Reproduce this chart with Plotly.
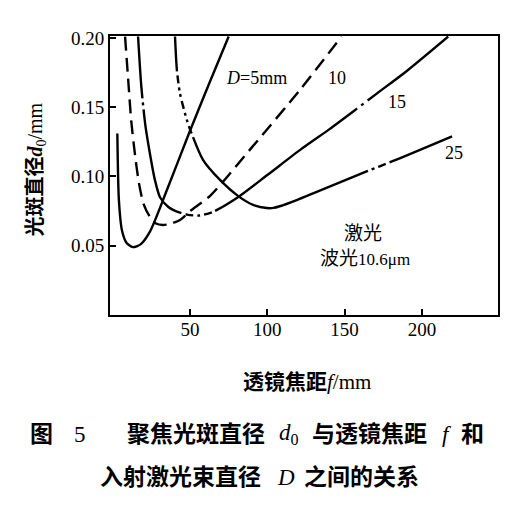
import plotly.graph_objects as go

# ---- data (f in mm, d0 in mm) ----
f_D5 = [3, 4, 6, 9, 13, 18, 24, 35, 50, 62, 75]
d_D5 = [0.131, 0.083, 0.061, 0.052, 0.049, 0.051, 0.060, 0.090, 0.133, 0.166, 0.201]

f_D10 = [8, 10, 12, 14.5, 17, 20, 24, 28, 32.5, 38, 44, 50, 63, 90, 120, 148]
d_D10 = [0.201, 0.170, 0.140, 0.115, 0.095, 0.080, 0.071, 0.066, 0.065, 0.066, 0.069, 0.075, 0.086, 0.121, 0.161, 0.201]

f_D15 = [16.4, 18.5, 21, 24, 27.4, 30.6, 36, 42, 48, 56, 65, 81, 100, 121, 140, 158, 171, 190, 217]
d_D15 = [0.201, 0.165, 0.138, 0.117, 0.097, 0.085, 0.078, 0.0745, 0.0725, 0.0718, 0.0745, 0.085, 0.101, 0.119, 0.134, 0.149, 0.160, 0.176, 0.201]

f_D25 = [40.3, 41.5, 43.5, 47.9, 50, 58.4, 69.4, 81, 90.8, 99.6, 104, 108, 119, 130, 165, 181, 219.5]
d_D25 = [0.201, 0.177, 0.160, 0.141, 0.134, 0.112, 0.0975, 0.086, 0.0795, 0.0772, 0.0773, 0.0785, 0.083, 0.088, 0.104, 0.111, 0.129]

x_ticks = [50, 100, 150, 200]
y_ticks = [0.05, 0.10, 0.15, 0.20]
y_ticktext = ["0.05", "0.10", "0.15", "0.20"]

curve_labels = ["<i>D</i>=5mm", "10", "15", "25"]
label_x = [93.3, 145, 184, 221]
label_y = [0.171, 0.171, 0.154, 0.117]

SERIF = "Liberation Serif, Noto Sans CJK SC, serif"
CJK = "Noto Sans CJK SC, Liberation Serif"

fig = go.Figure()
line_w = 2.4
sm = 0.7
dash15 = "62px,4px,3px,4px,117px,4px,8px,4px,3px,4px,8px,4px,175px,5px,3px,5px,400px"
dash25 = ("35px,4px,8px,4px,3px,4px,3px,4px,8px,4px,3px,4px,3px,4px,8px,4px,"
          "215px,4px,3px,4px,8px,4px,300px")
fig.add_trace(go.Scatter(x=f_D5, y=d_D5, mode="lines", line=dict(color="black", width=line_w, shape="spline", smoothing=sm)))
fig.add_trace(go.Scatter(x=f_D10, y=d_D10, mode="lines", line=dict(color="black", width=line_w, dash="14px,7px", shape="spline", smoothing=sm)))
fig.add_trace(go.Scatter(x=f_D15, y=d_D15, mode="lines", line=dict(color="black", width=line_w, dash=dash15, shape="spline", smoothing=sm)))
fig.add_trace(go.Scatter(x=f_D25, y=d_D25, mode="lines", line=dict(color="black", width=line_w, dash=dash25, shape="spline", smoothing=sm)))

for t, x, y in zip(curve_labels, label_x, label_y):
    fig.add_annotation(x=x, y=y, text=t, showarrow=False, xanchor="center", yanchor="middle",
                       font=dict(family=SERIF, size=18, color="black"))

fig.add_annotation(x=162, y=0.060, text="激光", showarrow=False, xanchor="center", yanchor="middle",
                   font=dict(family=CJK, size=19, color="black"))
fig.add_annotation(x=163, y=0.041, text="波光<span style='font-size:17px'>10.6μm</span>", showarrow=False,
                   xanchor="center", yanchor="middle", font=dict(family=SERIF, size=19, color="black"))

# axis titles
fig.add_annotation(xref="paper", yref="paper", x=-0.189, y=0.52, textangle=-90, xanchor="center", yanchor="middle",
                   text="<b>光斑直径<i>d</i></b><sub>0</sub>/mm", showarrow=False,
                   font=dict(family=SERIF, size=20, color="black"))
fig.add_annotation(xref="paper", yref="paper", x=0.508, y=-0.24, xanchor="center", yanchor="middle",
                   text="<b>透镜焦距</b><i>f</i>/mm", showarrow=False,
                   font=dict(family=SERIF, size=21, color="black"))

# caption (two lines, placed piece by piece like the printed figure)
def px2paper(px, py):
    return (px - 110) / 388, (315 - py) / 279

cap1 = [("<b>图</b>", 41.5), ("5", 80), ("<b>聚焦光斑直径</b>", 196), ("<i>d</i><sub>0</sub>", 289),
        ("<b>与透镜焦距</b>", 369), ("<i>f</i>", 447), ("<b>和</b>", 472)]
cap2 = [("<b>入射激光束直径</b>", 180), ("<i>D</i>", 285.5), ("<b>之间的关系</b>", 361.5)]
for items, py in ((cap1, 434), (cap2, 477)):
    for t, px in items:
        xp, yp = px2paper(px, py)
        fig.add_annotation(xref="paper", yref="paper", x=xp, y=yp, xanchor="center", yanchor="middle",
                           text=t, showarrow=False, font=dict(family=SERIF, size=23, color="black"))

fig.update_layout(
    width=523, height=505,
    margin=dict(l=110, r=25, t=36, b=190),
    paper_bgcolor="white", plot_bgcolor="white",
    showlegend=False,
    xaxis=dict(range=[-1.75, 249.2], tickvals=x_ticks, ticks="inside", ticklen=6, tickwidth=1.5,
               tickcolor="black", showline=True, linecolor="black", linewidth=2, mirror=True,
               showgrid=False, zeroline=False, ticklabelstandoff=-4,
               tickfont=dict(family=SERIF, size=19, color="black")),
    yaxis=dict(range=[0, 0.2014], tickvals=y_ticks, ticktext=y_ticktext, ticks="inside", ticklen=6,
               tickwidth=1.5, tickcolor="black", showline=True, linecolor="black", linewidth=2, mirror=True,
               showgrid=False, zeroline=False, tickfont=dict(family=SERIF, size=19, color="black")),
)

fig.write_html("out.html")
